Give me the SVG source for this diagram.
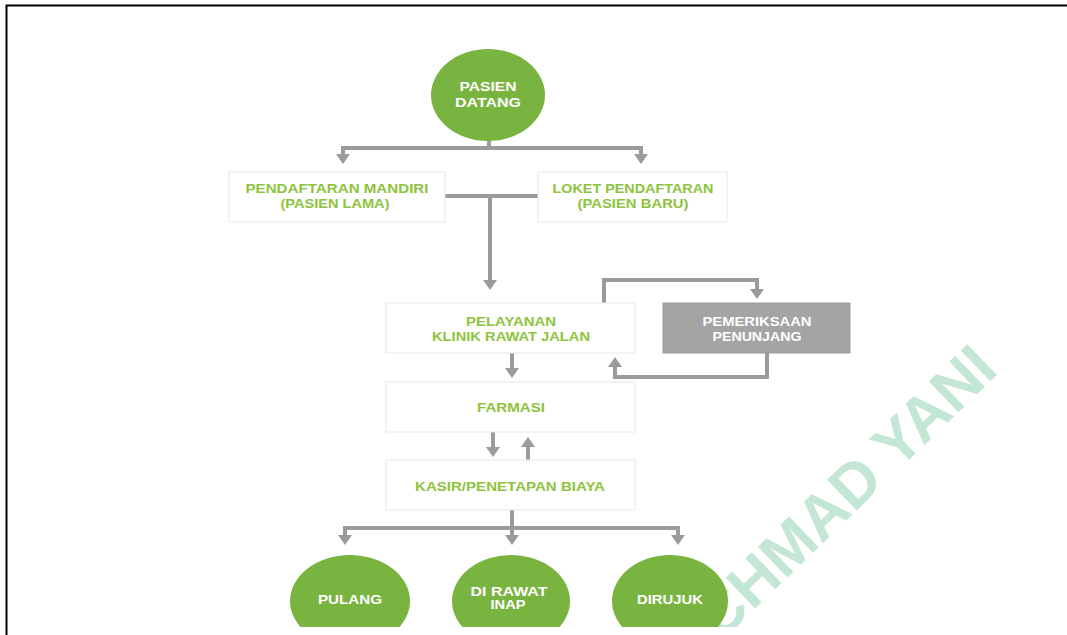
<svg xmlns="http://www.w3.org/2000/svg" width="1067" height="635" viewBox="0 0 1067 635">
  <style>
    .box { fill: #ffffff; stroke: #e8e8e8; stroke-width: 1; }
    .gbox { fill: #a4a4a4; stroke: #9a9a9a; stroke-width: 1; }
    .oval { fill: #7ab440; }
    .t { font-family: "Liberation Sans", "DejaVu Sans", sans-serif; font-weight: bold; font-size: 12px; text-anchor: middle; }
    .tg { fill: #8cc43c; }
    .tw { fill: #ffffff; }
    .conn { fill: none; stroke: #9b9b9b; stroke-width: 4; stroke-linejoin: miter; }
    .wm { font-family: "Liberation Sans", "DejaVu Sans", sans-serif; font-weight: bold; font-size: 62px; fill: #c3e7d4; }
  </style>
  <defs>
    <marker id="ah" markerUnits="userSpaceOnUse" viewBox="0 0 10 14" markerWidth="10" markerHeight="14" refX="2" refY="7" orient="auto">
      <path d="M0,0 L10,7 L0,14 z" fill="#9b9b9b"/>
    </marker>
    <clipPath id="clipB">
      <rect x="0" y="0" width="1067" height="627"/>
    </clipPath>
  </defs>
  <rect x="0" y="0" width="1067" height="635" fill="#ffffff"/>
  <!-- frame -->
  <path d="M6.5,635 V5.5 H1067" fill="none" stroke="#000000" stroke-width="2"/>

  <!-- watermark -->
  <g clip-path="url(#clipB)">
    <text class="wm" x="1000" y="372" text-anchor="end" transform="rotate(-44 1000 372)">CHMAD YANI</text>
  </g>

  <!-- connectors -->
  <g id="connectors">
    <path class="conn" d="M489,140 V148"/>
    <path class="conn" d="M341,148 H643"/>
    <path class="conn" d="M343,148 V156" marker-end="url(#ah)"/>
    <path class="conn" d="M641,148 V156" marker-end="url(#ah)"/>
    <path class="conn" d="M445,196 H538"/>
    <path class="conn" d="M490,196 V282" marker-end="url(#ah)"/>
    <path class="conn" d="M604,303 V280 H757 V291" marker-end="url(#ah)"/>
    <path class="conn" d="M767,353 V377 H615 V365" marker-end="url(#ah)"/>
    <path class="conn" d="M512,353 V370" marker-end="url(#ah)"/>
    <path class="conn" d="M493,432 V449" marker-end="url(#ah)"/>
    <path class="conn" d="M528,460 V445" marker-end="url(#ah)"/>
    <path class="conn" d="M512,510 V528"/>
    <path class="conn" d="M343,528 H680"/>
    <path class="conn" d="M345,528 V537" marker-end="url(#ah)"/>
    <path class="conn" d="M512,528 V537" marker-end="url(#ah)"/>
    <path class="conn" d="M678,528 V537" marker-end="url(#ah)"/>
  </g>

  <g id="pasien-datang">
    <ellipse class="oval" cx="488" cy="95" rx="57" ry="46"/>
    <text class="t tw" x="488" y="91" textLength="57" lengthAdjust="spacingAndGlyphs">PASIEN</text>
    <text class="t tw" x="488" y="107" textLength="66" lengthAdjust="spacingAndGlyphs">DATANG</text>
  </g>

  <g id="pendaftaran-mandiri">
    <rect class="box" x="229" y="172" width="216" height="50"/>
    <text class="t tg" x="337" y="193" textLength="183" lengthAdjust="spacingAndGlyphs">PENDAFTARAN MANDIRI</text>
    <text class="t tg" x="335" y="208" textLength="109" lengthAdjust="spacingAndGlyphs">(PASIEN LAMA)</text>
  </g>

  <g id="loket-pendaftaran">
    <rect class="box" x="538" y="172" width="189" height="50"/>
    <text class="t tg" x="633" y="193" textLength="161" lengthAdjust="spacingAndGlyphs">LOKET PENDAFTARAN</text>
    <text class="t tg" x="633" y="208" textLength="111" lengthAdjust="spacingAndGlyphs">(PASIEN BARU)</text>
  </g>

  <g id="pelayanan-klinik">
    <rect class="box" x="386" y="303" width="249" height="50"/>
    <text class="t tg" x="511" y="326" textLength="90" lengthAdjust="spacingAndGlyphs">PELAYANAN</text>
    <text class="t tg" x="511" y="341" textLength="158" lengthAdjust="spacingAndGlyphs">KLINIK RAWAT JALAN</text>
  </g>

  <g id="pemeriksaan-penunjang">
    <rect class="gbox" x="663" y="303" width="187" height="50"/>
    <text class="t tw" x="757" y="326" textLength="109" lengthAdjust="spacingAndGlyphs">PEMERIKSAAN</text>
    <text class="t tw" x="757" y="341" textLength="89" lengthAdjust="spacingAndGlyphs">PENUNJANG</text>
  </g>

  <g id="farmasi">
    <rect class="box" x="386" y="382" width="249" height="50"/>
    <text class="t tg" x="511" y="412" textLength="68" lengthAdjust="spacingAndGlyphs">FARMASI</text>
  </g>

  <g id="kasir">
    <rect class="box" x="386" y="460" width="249" height="50"/>
    <text class="t tg" x="510" y="491" textLength="190" lengthAdjust="spacingAndGlyphs">KASIR/PENETAPAN BIAYA</text>
  </g>

  <g clip-path="url(#clipB)">
    <g id="pulang">
      <ellipse class="oval" cx="350" cy="601" rx="60" ry="46"/>
      <text class="t tw" x="350" y="604" textLength="64" lengthAdjust="spacingAndGlyphs">PULANG</text>
    </g>
    <g id="di-rawat-inap">
      <ellipse class="oval" cx="511" cy="601" rx="59" ry="46"/>
      <text class="t tw" x="509" y="596" textLength="77" lengthAdjust="spacingAndGlyphs">DI RAWAT</text>
      <text class="t tw" x="508" y="609" textLength="35" lengthAdjust="spacingAndGlyphs">INAP</text>
    </g>
    <g id="dirujuk">
      <ellipse class="oval" cx="670" cy="601" rx="58" ry="46"/>
      <text class="t tw" x="670" y="604" textLength="66" lengthAdjust="spacingAndGlyphs">DIRUJUK</text>
    </g>
  </g>
</svg>
